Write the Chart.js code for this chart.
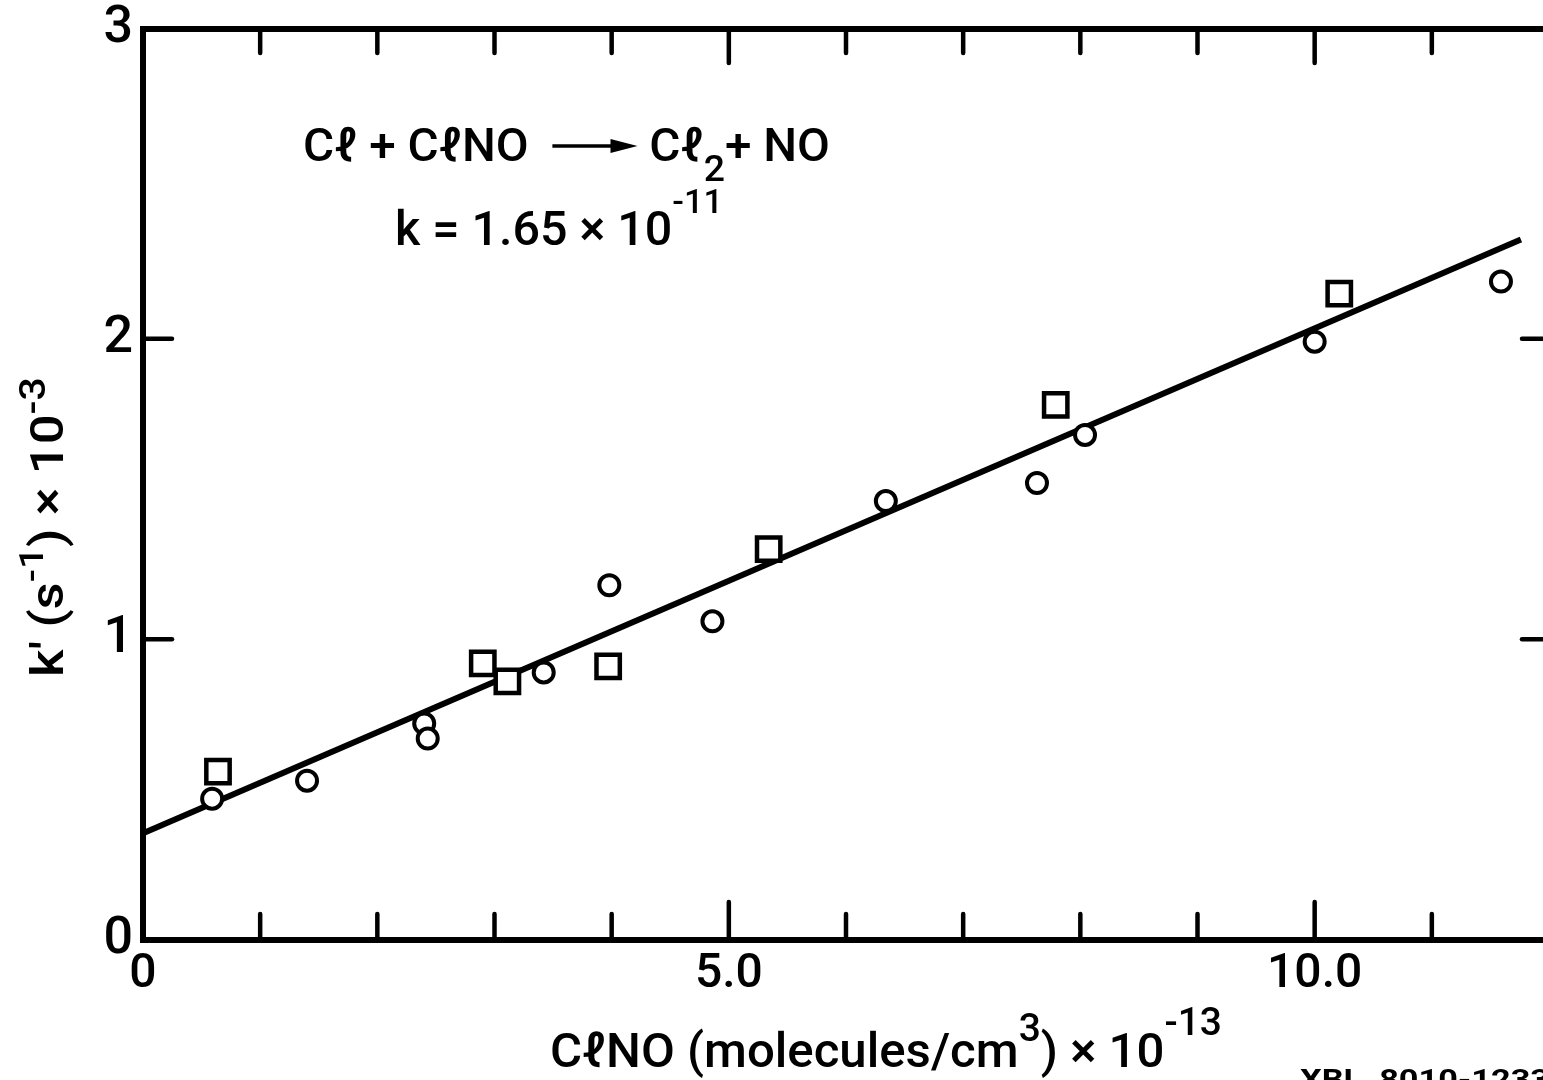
<!DOCTYPE html>
<html>
<head>
<meta charset="utf-8">
<script src="https://cdn.jsdelivr.net/npm/chart.js@4.4.0/dist/chart.umd.min.js"></script>
<style>
  body { margin: 0; background: #fff; overflow: hidden; }
</style>
</head>
<body>
<canvas id="rateChart" width="1549" height="1080"></canvas>
<script>
// ClNO concentration (x 10^-13 molecules/cm3) against k' (s^-1 x 10^-3)
var circleX = [0.59, 1.40, 2.40, 2.43, 3.42, 3.98, 4.86, 6.34, 7.63, 8.04, 10.00, 11.59];
var circleY = [0.47, 0.53, 0.72, 0.67, 0.89, 1.18, 1.06, 1.46, 1.52, 1.68, 1.99, 2.19];
var squareX = [0.64, 2.90, 3.11, 3.97, 5.34, 7.79, 10.21];
var squareY = [0.56, 0.92, 0.86, 0.91, 1.30, 1.78, 2.15];
var fitX = [0, 11.76];
var fitY = [0.355, 2.33];
var xTickLabels = { 0: '0', 5: '5.0', 10: '10.0' };
var yTickLabels = { 0: '0', 1: '1', 2: '2' };
var yTopLabel = '3';

var FONT = 'Roboto, "Liberation Sans", Arial, sans-serif';
var WEIGHT = '500';

function pts(xs, ys) {
    return xs.map(function (x, i) { return { x: x, y: ys[i] }; });
}

function line(ctx, x1, y1, x2, y2) {
    ctx.beginPath();
    ctx.moveTo(x1, y1);
    ctx.lineTo(x2, y2);
    ctx.stroke();
}

// draws text pieces (normal / raised / lowered, or an arrow) squeezed to a width
function drawRich(ctx, parts, x, y, target, weight) {
    weight = weight || WEIGHT;
    var w = 0;
    parts.forEach(function (p) {
        if (p.arrow) { w += p.arrow; return; }
        ctx.font = weight + ' ' + p.s + 'px ' + FONT;
        w += ctx.measureText(p.t).width;
    });
    var sx = target ? target / w : 1;
    ctx.save();
    ctx.translate(x, y);
    ctx.scale(sx, 1);
    ctx.fillStyle = '#000';
    ctx.strokeStyle = '#000';
    ctx.textAlign = 'left';
    ctx.textBaseline = 'alphabetic';
    var cx = 0;
    parts.forEach(function (p) {
        if (p.arrow) {
            var ay = p.dy;
            ctx.lineWidth = 3.5;
            line(ctx, cx, ay, cx + p.arrow - 14, ay);
            ctx.beginPath();
            ctx.moveTo(cx + p.arrow, ay);
            ctx.lineTo(cx + p.arrow - 26, ay - 7);
            ctx.lineTo(cx + p.arrow - 26, ay + 7);
            ctx.closePath();
            ctx.fill();
            cx += p.arrow;
            return;
        }
        ctx.font = weight + ' ' + p.s + 'px ' + FONT;
        ctx.fillText(p.t, cx, p.dy || 0);
        cx += ctx.measureText(p.t).width;
    });
    ctx.restore();
}

var framePlugin = {
    id: 'frame',
    afterDatasetsDraw: function (chart) {
        var ctx = chart.ctx, a = chart.chartArea;
        var xs = chart.scales.x, ys = chart.scales.y;
        ctx.save();
        ctx.strokeStyle = '#000';
        ctx.lineCap = 'round';
        ctx.lineWidth = 6;
        ctx.strokeRect(a.left, a.top, a.right - a.left, a.bottom - a.top);
        ctx.lineWidth = 4.5;
        for (var v = 1; v < 12; v++) {
            var px = xs.getPixelForValue(v);
            var major = v % 5 === 0;
            line(ctx, px, a.bottom, px, a.bottom - (major ? 38 : 26));
            line(ctx, px, a.top, px, a.top + (major ? 34 : 24));
        }
        for (var u = 1; u < 3; u++) {
            var py = ys.getPixelForValue(u);
            line(ctx, a.left, py, a.left + 29, py);
            line(ctx, a.right, py, a.right - 27, py);
        }
        ctx.restore();
    }
};

var textPlugin = {
    id: 'texts',
    afterDraw: function (chart) {
        var ctx = chart.ctx;
        // reaction and rate constant
        drawRich(ctx, [
            { t: 'Cℓ + CℓNO  ', s: 46 },
            { arrow: 82, dy: -15 },
            { t: ' Cℓ', s: 46 },
            { t: '2', s: 36, dy: 20 },
            { t: '+ NO', s: 46 }
        ], 303, 161, 527);
        drawRich(ctx, [
            { t: 'k = 1.65 × 10', s: 48 },
            { t: '-11', s: 34, dy: -32 }
        ], 395, 245, 328);
        // axis titles
        drawRich(ctx, [
            { t: 'CℓNO (molecules/cm', s: 48 },
            { t: '3', s: 38, dy: -26 },
            { t: ') × 10', s: 48 },
            { t: '-13', s: 38, dy: -32 }
        ], 550, 1067, 672);
        ctx.save();
        ctx.translate(63, 677);
        ctx.rotate(-Math.PI / 2);
        drawRich(ctx, [
            { t: 'k′ (s', s: 46 },
            { t: '-1', s: 34, dy: -20 },
            { t: ') × 10', s: 46 },
            { t: '-3', s: 36, dy: -18 }
        ], 0, 0, 300);
        ctx.restore();
        drawRich(ctx, [{ t: 'XBL  8010-1233', s: 27 }], 1300, 1089, 250, 'bold');
    }
};

new Chart(document.getElementById('rateChart'), {
    type: 'scatter',
    data: {
        datasets: [
            {
                type: 'line',
                data: pts(fitX, fitY),
                borderColor: '#000',
                borderWidth: 6,
                pointRadius: 0,
                fill: false,
                order: 5
            },
            {
                data: pts(circleX, circleY),
                pointStyle: 'circle',
                pointRadius: 10,
                pointBorderWidth: 4,
                borderColor: '#000',
                backgroundColor: '#fff',
                order: 1
            },
            {
                data: pts(squareX, squareY),
                pointStyle: 'rect',
                pointRadius: 16.5,
                pointBorderWidth: 4.5,
                borderColor: '#000',
                backgroundColor: '#fff',
                order: 1
            }
        ]
    },
    options: {
        responsive: false,
        animation: false,
        layout: { autoPadding: false, padding: { top: 29, right: 0, bottom: 0, left: 0 } },
        plugins: {
            legend: { display: false },
            tooltip: { enabled: false }
        },
        scales: {
            x: {
                type: 'linear',
                min: 0,
                max: 12,
                grid: { display: false, drawTicks: false },
                border: { display: false },
                ticks: {
                    stepSize: 1,
                    autoSkip: false,
                    maxRotation: 0,
                    padding: 6,
                    color: '#000',
                    font: { family: FONT, size: 48, weight: WEIGHT },
                    callback: function (v) { return xTickLabels[v] || ''; }
                },
                afterFit: function (s) {
                    s.height = 140;
                    s.paddingLeft = 0;
                    s.paddingRight = 0;
                }
            },
            y: {
                type: 'linear',
                min: 0,
                max: 3.03,
                grid: { display: false, drawTicks: false },
                border: { display: false },
                ticks: {
                    stepSize: 1,
                    autoSkip: false,
                    padding: 10,
                    color: '#000',
                    font: { family: FONT, size: 52, weight: WEIGHT },
                    callback: function (v, i, ticks) {
                        if (i === ticks.length - 1) return yTopLabel;
                        return yTickLabels[v] || '';
                    }
                },
                afterFit: function (s) {
                    s.width = 143;
                    s.paddingTop = 0;
                    s.paddingBottom = 0;
                }
            }
        }
    },
    plugins: [framePlugin, textPlugin]
});
</script>
</body>
</html>
